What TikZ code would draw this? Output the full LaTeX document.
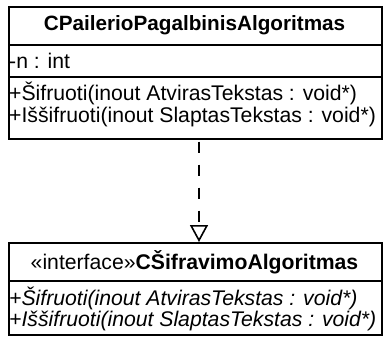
\documentclass[tikz,border=0pt]{standalone}
\usepackage{fontspec}
\setmainfont{Liberation Sans}
\usetikzlibrary{arrows.meta}
\begin{document}
\begin{tikzpicture}[x=1pt,y=-1pt,
  umlbox/.style={draw, line width=1.6pt, inner sep=0pt, anchor=north west},
  sepline/.style={line width=1.6pt},
  txt/.style={inner sep=0pt, font=\fontsize{21.2}{25}\selectfont},
  titletxt/.style={inner sep=0pt, font=\fontsize{20.7}{25}\selectfont\bfseries},
  realize/.style={line width=1.6pt, dash pattern=on 11pt off 12pt,
    -{Triangle[open, width=18pt, length=17pt, line width=1.6pt]}}]
  \useasboundingbox (0,0) rectangle (383,338);
  % class box
  \node[umlbox, minimum width=373pt, minimum height=132pt] (cls) at (8,6) {};
  \draw[sepline] (8,45) -- (381,45);
  \draw[sepline] (8,77) -- (381,77);
  \node[titletxt] (clsname) at (194.5,25.5) {CPailerioPagalbinisAlgoritmas};
  \node[txt, anchor=west] (attr) at (9,61) {-n : int};
  \node[txt, anchor=west] (m1) at (9,93) {+Šifruoti(inout AtvirasTekstas : void*)};
  \node[txt, anchor=west] (m2) at (9,117) {+Iššifruoti(inout SlaptasTekstas : void*)};
  % interface box
  \node[umlbox, minimum width=373pt, minimum height=92pt] (iface) at (8,242) {};
  \draw[sepline] (8,281) -- (381,281);
  \node[txt] (ifname) at (194.5,262) {«interface»\textbf{CŠifravimoAlgoritmas}};
  \node[txt, anchor=west] (im1) at (9,298) {\itshape +Šifruoti(inout AtvirasTekstas : void*)};
  \node[txt, anchor=west] (im2) at (9,321) {\itshape +Iššifruoti(inout SlaptasTekstas : void*)};
  % realization
  \coordinate (ax) at (199,0);
  \draw[realize] (cls.south -| ax) ++(0,2) -- (iface.north -| ax);
\end{tikzpicture}
\end{document}
